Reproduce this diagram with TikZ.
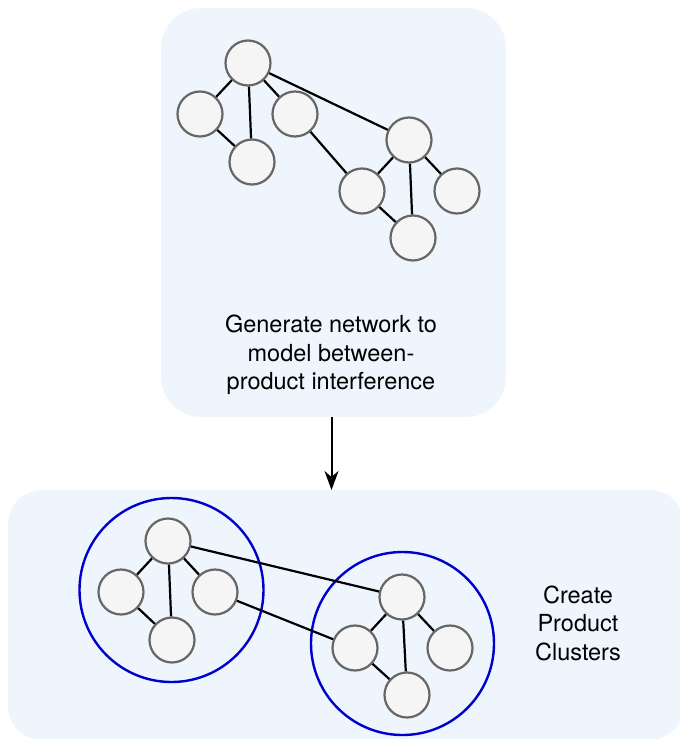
\documentclass[tikz,border=0pt]{standalone}
\usepackage{fontspec}
\setmainfont{TeX Gyre Heros}
\usetikzlibrary{arrows.meta}
\definecolor{boxfill}{RGB}{238,245,253}
\definecolor{nodefill}{RGB}{245,245,245}
\definecolor{nodeline}{RGB}{102,102,102}
\definecolor{clusterblue}{RGB}{0,0,204}
\tikzset{
  panel/.style={fill=boxfill, draw=none},
  vtx/.style={circle, minimum size=45pt, inner sep=0pt, fill=nodefill, draw=nodeline, line width=2.2pt},
  edge/.style={line width=2.2pt, black},
  cluster/.style={circle, draw=clusterblue, line width=2.4pt, inner sep=0pt},
  label/.style={align=center, font=\fontsize{23.5}{28.5}\selectfont, inner sep=0pt},
}
\begin{document}
\begin{tikzpicture}[x=1pt, y=-1pt]
\useasboundingbox (0,0) rectangle (680,739);
% panels
\path[panel, rounded corners=40pt] (161,8) rectangle (506,417);
\path[panel, rounded corners=34pt] (8,490) rectangle (684,740);
% top network
\node[vtx] (A) at (248,63) {};
\node[vtx] (B) at (200,114) {};
\node[vtx] (C) at (295,114) {};
\node[vtx] (D) at (252,162) {};
\node[vtx] (E) at (409,140) {};
\node[vtx] (F) at (362,191) {};
\node[vtx] (G) at (457,191) {};
\node[vtx] (H) at (413,238) {};
\draw[edge] (A) -- (B);
\draw[edge] (A) -- (D);
\draw[edge] (A) -- (C);
\draw[edge] (A) -- (E);
\draw[edge] (B) -- (D);
\draw[edge] (C) -- (F);
\draw[edge] (E) -- (F);
\draw[edge] (E) -- (H);
\draw[edge] (E) -- (G);
\draw[edge] (F) -- (H);
\node[label] (t1) at (331,355) {Generate network to\\model between-\\product interference};
% arrow
\coordinate (arrS) at (331.5,417);
\coordinate (arrE) at (331.5,490);
\draw[line width=2pt, -{Stealth[length=19pt, width=14pt, inset=6pt]}] (arrS) -- (arrE);
% clusters
\node[cluster, minimum size=184pt] (K1) at (171.5,590) {};
\node[cluster, minimum size=183pt] (K2) at (402.5,643.5) {};
% bottom network
\node[vtx] (a) at (168,541) {};
\node[vtx] (b) at (121,592) {};
\node[vtx] (c) at (215,592) {};
\node[vtx] (d) at (172,640) {};
\node[vtx] (e) at (402,597) {};
\node[vtx] (f) at (355,648) {};
\node[vtx] (g) at (450,648) {};
\node[vtx] (h) at (407,695) {};
\draw[edge] (a) -- (b);
\draw[edge] (a) -- (d);
\draw[edge] (a) -- (c);
\draw[edge] (a) -- (e);
\draw[edge] (b) -- (d);
\draw[edge] (c) -- (f);
\draw[edge] (e) -- (f);
\draw[edge] (e) -- (h);
\draw[edge] (e) -- (g);
\draw[edge] (f) -- (h);
\node[label] (t2) at (578,623) {Create\\Product\\Clusters};
\end{tikzpicture}
\end{document}
